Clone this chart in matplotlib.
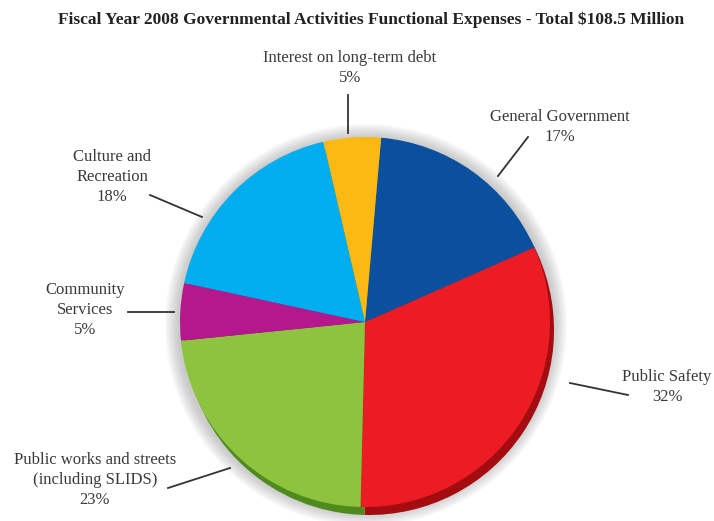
import matplotlib.pyplot as plt
from matplotlib.patches import Circle

# FY2008 functional expenses, share of total
labels = ['General Government', 'Public Safety',
          'Public works and streets\n(including SLIDS)', 'Community\nServices',
          'Culture and\nRecreation', 'Interest on long-term debt']
shares = [17, 32, 23, 5, 18, 5]
colors = ['#0b4f9f', '#ec1c24', '#8dc33f', '#b5178c', '#00aeef', '#fdb913']
side_colors = ['#06356d', '#a30d12', '#4f8a1f', '#7a0f5f', '#0077a6', '#b07f08']

# label text position (center of block) and leader line, in pixels from top-left
label_pos = [(560, 127), (667, 387), (95, 480), (85, 310), (112, 177), (350, 68)]
leaders = [((528, 137), (498, 176)), ((628, 395), (570, 383)),
           ((168, 488), (230, 468)), ((128, 312), (174, 312)),
           ((150, 195), (202, 217)), ((348, 95), (348, 133))]

W, H = 714, 521
cx, cy, R = 365, 322, 185

fig = plt.figure(figsize=(W / 100, H / 100), dpi=100)
ax = fig.add_axes([0, 0, 1, 1])

# soft shadow around the disc
for i in range(14):
    ax.add_patch(Circle((cx + 1, H - cy - 3), R + 16 - i, color='#7a7a7a',
                        alpha=0.03, lw=0, zorder=1))

# extruded side of the disc
ax.pie(shares, colors=side_colors, startangle=85, counterclock=False,
       radius=R, center=(cx + 4, H - cy - 8), frame=True,
       wedgeprops=dict(linewidth=0, zorder=2))
wedges, _ = ax.pie(shares, colors=colors, startangle=85, counterclock=False,
                   radius=R, center=(cx, H - cy), frame=True,
                   wedgeprops=dict(linewidth=0))
for w in wedges:
    w.set_zorder(3)

ax.set_xlim(0, W)
ax.set_ylim(0, H)
ax.set_aspect('equal')
ax.axis('off')

serif = ['Liberation Serif', 'DejaVu Serif']
for lab, s, (x, y) in zip(labels, shares, label_pos):
    ax.text(x, H - y, f'{lab}\n{s}%', ha='center', va='center', fontsize=12,
            family=serif, color='#3a3a3a', linespacing=1.3, zorder=5)

for (x0, y0), (x1, y1) in leaders:
    ax.plot([x0, x1], [H - y0, H - y1], color='#333333', lw=1.3, zorder=5)

ax.text(371, H - 20, 'Fiscal Year 2008 Governmental Activities Functional Expenses - Total $108.5 Million',
        ha='center', va='center', fontsize=12.5, fontweight='bold',
        family=serif, color='#222222', zorder=5)

plt.savefig('out.png', dpi=100)
